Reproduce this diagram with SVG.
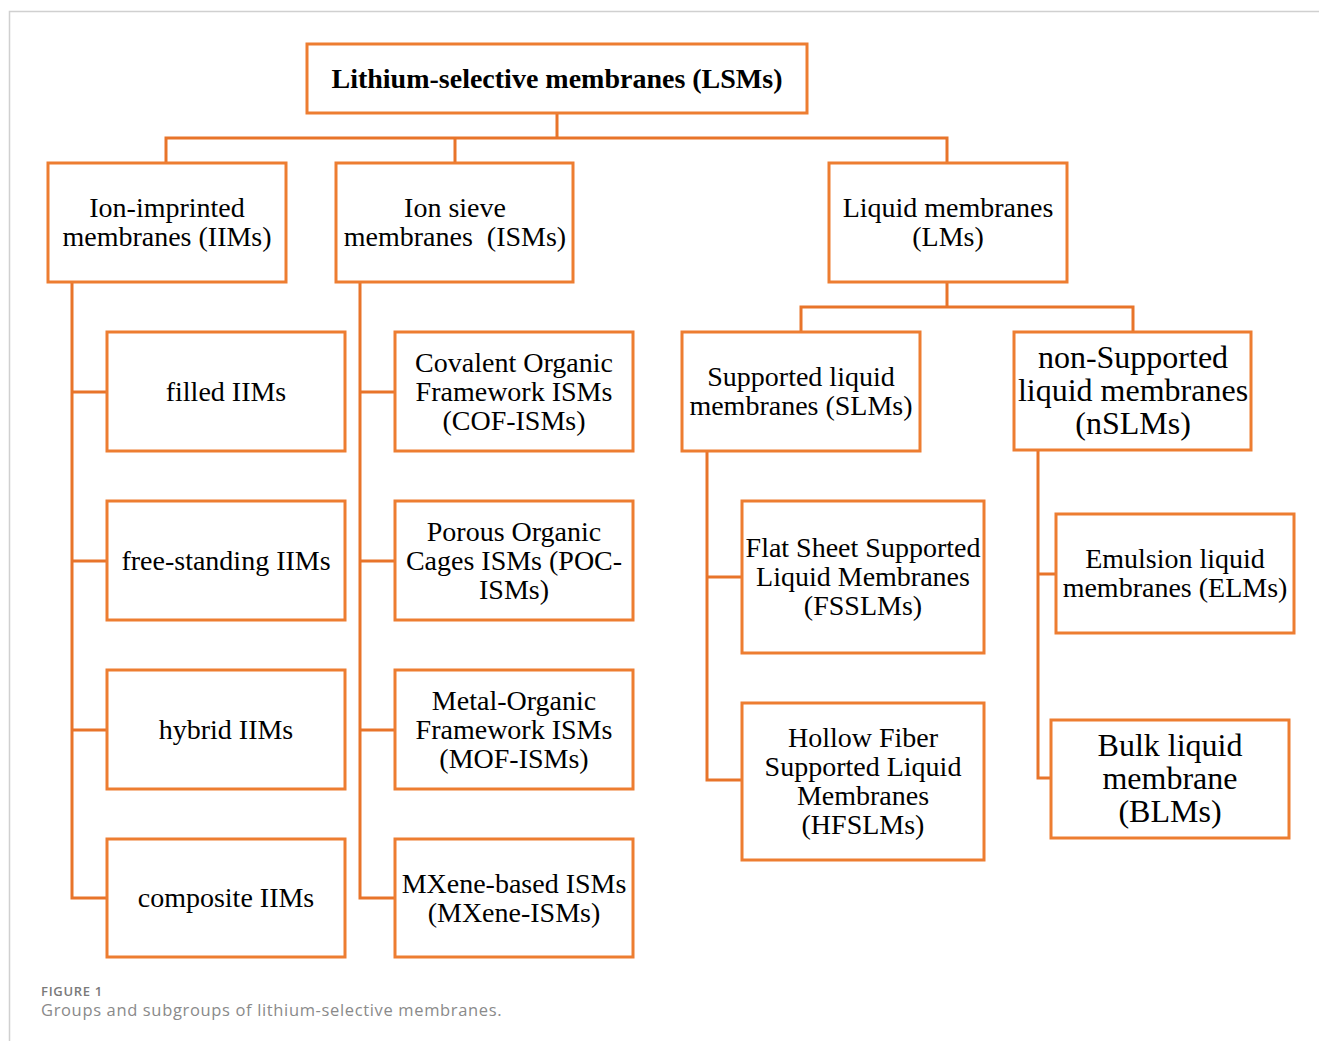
<svg xmlns="http://www.w3.org/2000/svg" width="1319" height="1041" viewBox="0 0 1319 1041">
<style>
.box{fill:#fff;stroke:#ED7D31;stroke-width:3}
.t{font-family:"Liberation Serif","Times New Roman",serif;font-size:28px;fill:#000;text-anchor:middle}
.tl{font-family:"Liberation Serif","Times New Roman",serif;font-size:32px;fill:#000;text-anchor:middle}
.tb{font-family:"Liberation Serif","Times New Roman",serif;font-size:28px;font-weight:bold;fill:#000;text-anchor:middle}
.c{fill:none;stroke:#E8742A;stroke-width:3}
</style>
<rect x="0" y="0" width="1319" height="1041" fill="#fff"/>
<path d="M9.5 1041 V11.5 H1319" fill="none" stroke="#d0d0d0" stroke-width="1.5"/>
<g id="connectors" class="c">
<path d="M557 113 V138 M166 163 V138 H947 V163 M455 138 V163"/>
<path d="M947 282 V307 M801 332 V307 H1133 V332"/>
<path d="M72 282 V898 H107 M72 392 H107 M72 561 H107 M72 730 H107"/>
<path d="M360 282 V898 H395 M360 392 H395 M360 561 H395 M360 730 H395"/>
<path d="M707 451 V780 H742 M707 577 H742"/>
<path d="M1038 450 V778 H1051 M1038 574 H1056"/>
</g>
<g id="lsm"><rect class="box" x="307" y="44" width="500" height="69"/><text class="tb" x="557" y="88">Lithium-selective membranes (LSMs)</text></g>
<g id="iims"><rect class="box" x="48" y="163" width="238" height="119"/><text class="t" x="167" y="217">Ion-imprinted</text><text class="t" x="167" y="246">membranes (IIMs)</text></g>
<g id="isms"><rect class="box" x="336" y="163" width="237" height="119"/><text class="t" x="455" y="217" xml:space="preserve">Ion sieve</text><text class="t" x="455" y="246" xml:space="preserve">membranes  (ISMs)</text></g>
<g id="lms"><rect class="box" x="829" y="163" width="238" height="119"/><text class="t" x="948" y="217">Liquid membranes</text><text class="t" x="948" y="246">(LMs)</text></g>
<g id="slms"><rect class="box" x="682" y="332" width="238" height="119"/><text class="t" x="801" y="386">Supported liquid</text><text class="t" x="801" y="415">membranes (SLMs)</text></g>
<g id="nslms"><rect class="box" x="1014" y="332" width="237" height="118"/><text class="tl" x="1133" y="368">non-Supported</text><text class="tl" x="1133" y="401">liquid membranes</text><text class="tl" x="1133" y="434">(nSLMs)</text></g>
<g id="filled"><rect class="box" x="107" y="332" width="238" height="119"/><text class="t" x="226" y="401">filled IIMs</text></g>
<g id="freestanding"><rect class="box" x="107" y="501" width="238" height="119"/><text class="t" x="226" y="570">free-standing IIMs</text></g>
<g id="hybrid"><rect class="box" x="107" y="670" width="238" height="119"/><text class="t" x="226" y="739">hybrid IIMs</text></g>
<g id="composite"><rect class="box" x="107" y="839" width="238" height="118"/><text class="t" x="226" y="907">composite IIMs</text></g>
<g id="cof"><rect class="box" x="395" y="332" width="238" height="119"/><text class="t" x="514" y="372">Covalent Organic</text><text class="t" x="514" y="401">Framework ISMs</text><text class="t" x="514" y="430">(COF-ISMs)</text></g>
<g id="poc"><rect class="box" x="395" y="501" width="238" height="119"/><text class="t" x="514" y="541">Porous Organic</text><text class="t" x="514" y="570">Cages ISMs (POC-</text><text class="t" x="514" y="599">ISMs)</text></g>
<g id="mof"><rect class="box" x="395" y="670" width="238" height="119"/><text class="t" x="514" y="710">Metal-Organic</text><text class="t" x="514" y="739">Framework ISMs</text><text class="t" x="514" y="768">(MOF-ISMs)</text></g>
<g id="mxene"><rect class="box" x="395" y="839" width="238" height="118"/><text class="t" x="514" y="893">MXene-based ISMs</text><text class="t" x="514" y="922">(MXene-ISMs)</text></g>
<g id="fsslms"><rect class="box" x="742" y="501" width="242" height="152"/><text class="t" x="863" y="557">Flat Sheet Supported</text><text class="t" x="863" y="586">Liquid Membranes</text><text class="t" x="863" y="615">(FSSLMs)</text></g>
<g id="hfslms"><rect class="box" x="742" y="703" width="242" height="157"/><text class="t" x="863" y="747">Hollow Fiber</text><text class="t" x="863" y="776">Supported Liquid</text><text class="t" x="863" y="805">Membranes</text><text class="t" x="863" y="834">(HFSLMs)</text></g>
<g id="elms"><rect class="box" x="1056" y="514" width="238" height="119"/><text class="t" x="1175" y="568">Emulsion liquid</text><text class="t" x="1175" y="597">membranes (ELMs)</text></g>
<g id="blms"><rect class="box" x="1051" y="720" width="238" height="118"/><text class="tl" x="1170" y="756">Bulk liquid</text><text class="tl" x="1170" y="789">membrane</text><text class="tl" x="1170" y="822">(BLMs)</text></g>
<g id="caption" font-family="'Open Sans','Noto Sans',sans-serif">
<text x="41" y="996" font-size="13" font-weight="600" letter-spacing="0.7" fill="#7a7a7a">FIGURE 1</text>
<text x="41" y="1016" font-size="16.5" letter-spacing="0.65" fill="#8a8a8a">Groups and subgroups of lithium-selective membranes.</text>
</g>
</svg>
